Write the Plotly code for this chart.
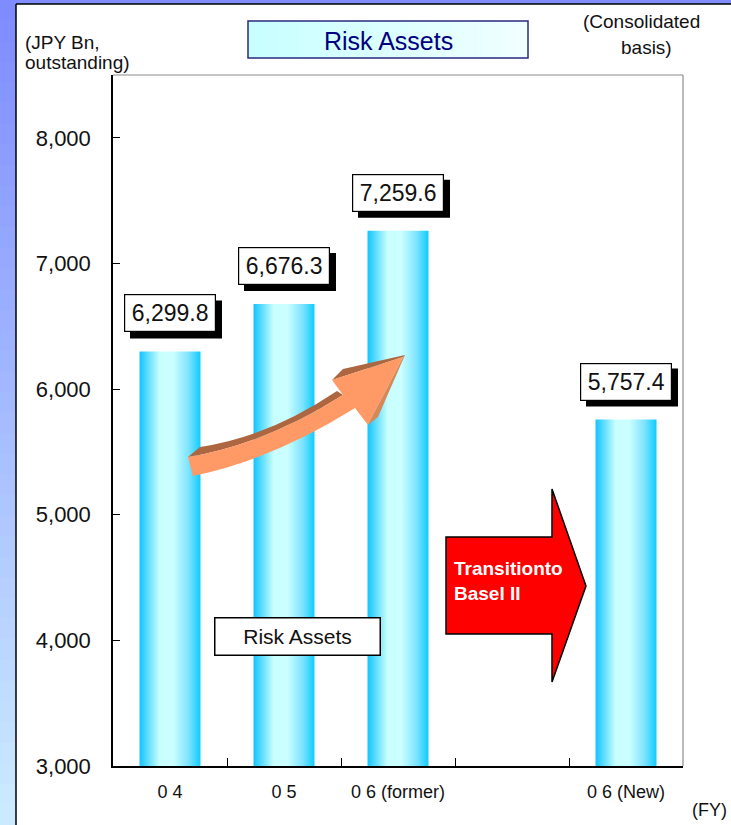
import plotly.graph_objects as go

# ---- data -------------------------------------------------------------
categories = ["0 4", "0 5", "0 6 (former)", "", "0 6 (New)"]
risk_assets = [6299.8, 6676.3, 7259.6, None, 5757.4]
value_labels = ["6,299.8", "6,676.3", "7,259.6", "", "5,757.4"]
y_ticks = [3000, 4000, 5000, 6000, 7000, 8000]

# ---- geometry of the page (pixels) ------------------------------------
W, H = 731, 825
L, R, T, B = 113, 683, 75, 766          # plot area edges
Y0, Y1 = 3000, 8500
BAR_W = 0.535
FONT = "Liberation Sans, Arial, sans-serif"


def dx(px):
    return (px - L) / ((R - L) / len(categories)) - 0.5


def dy(py):
    return Y0 + (B - py) * (Y1 - Y0) / (B - T)


def px_(px):
    return (px - L) / (R - L)


def py_(py):
    return (B - py) / (B - T)


def path(cmds):
    out = []
    for c in cmds:
        op, pts = c[0], c[1:]
        out.append(op + " " + " ".join(f"{dx(x):.4f},{dy(y):.2f}" for x, y in pts))
    return " ".join(out) + " Z"


def lerp(c0, c1, t):
    return "rgb(%d,%d,%d)" % tuple(round(a + (b - a) * t) for a, b in zip(c0, c1))


fig = go.Figure()

# ---- gradient bars ----------------------------------------------------
bar_scale = [[0.0, "#12c4ff"], [0.33, "#c8ffff"], [0.55, "#ccffff"],
             [0.8, "#7fe4ff"], [1.0, "#10cbff"]]
for i, v in enumerate(risk_assets):
    if v is None:
        continue
    x0, x1 = i - BAR_W / 2, i + BAR_W / 2
    fig.add_trace(go.Scatter(
        x=[x0, x1, x1, x0, x0], y=[Y0, Y0, v, v, Y0],
        mode="lines", fill="toself", line=dict(width=0),
        fillgradient=dict(type="horizontal", colorscale=bar_scale),
        hoverinfo="skip", showlegend=False,
    ))

shapes = []

# ---- page background: blue strip on the left and top ------------------
c_top, c_bot = (126, 140, 255), (204, 234, 255)
n = 40
for k in range(n):
    ya, yb = k * H / n, (k + 1) * H / n + 1
    shapes.append(dict(type="rect", xref="paper", yref="paper",
                       x0=px_(0), x1=px_(16), y0=py_(yb), y1=py_(ya),
                       fillcolor=lerp(c_top, c_bot, k / (n - 1)),
                       line=dict(width=0), layer="below"))
shapes.append(dict(type="rect", xref="paper", yref="paper",
                   x0=px_(16), x1=px_(W), y0=py_(4), y1=py_(0),
                   fillcolor="rgb(128,142,255)", line=dict(width=0), layer="below"))
shapes.append(dict(type="line", xref="paper", yref="paper",
                   x0=px_(16), x1=px_(16), y0=py_(4), y1=py_(H),
                   line=dict(color="black", width=1.5)))
shapes.append(dict(type="line", xref="paper", yref="paper",
                   x0=px_(16), x1=px_(W), y0=py_(4), y1=py_(4),
                   line=dict(color="black", width=1.5)))

# grey frame on top and right of the plot area
shapes.append(dict(type="line", xref="paper", yref="paper", x0=0, x1=1, y0=1, y1=1,
                   line=dict(color="#8c8c8c", width=1.2)))
shapes.append(dict(type="line", xref="paper", yref="paper", x0=1, x1=1, y0=0, y1=1,
                   line=dict(color="#8c8c8c", width=1.2)))

# ---- title box with light cyan gradient -------------------------------
tx0, tx1, ty0, ty1 = 248, 528, 21, 58
nb = 28
for k in range(nb):
    xa = tx0 + (tx1 - tx0) * k / nb
    xb = tx0 + (tx1 - tx0) * (k + 1) / nb + 0.5
    shapes.append(dict(type="rect", xref="paper", yref="paper",
                       x0=px_(xa), x1=px_(xb), y0=py_(ty1), y1=py_(ty0),
                       fillcolor=lerp((200, 255, 255), (240, 255, 255), k / (nb - 1)),
                       line=dict(width=0)))
shapes.append(dict(type="rect", xref="paper", yref="paper",
                   x0=px_(tx0), x1=px_(tx1), y0=py_(ty1), y1=py_(ty0),
                   line=dict(color="#2a2a80", width=1.5)))

# ---- orange growth arrow (3-D look) ------------------------------------
orange_body = path([
    ("M", (188, 457)), ("Q", (265.5, 444), (343, 395)),
    ("L", (332, 380)), ("L", (403, 357)), ("L", (368, 425)), ("L", (355, 408)),
    ("Q", (274, 459), (193, 476)),
])
orange_top = path([
    ("M", (188, 457)), ("L", (200, 447)), ("Q", (268.5, 437), (337, 391)),
    ("L", (343, 395)), ("Q", (265.5, 444), (188, 457)),
])
orange_head_top = path([
    ("M", (332, 380)), ("L", (343, 369)), ("L", (405, 355)), ("L", (403, 357)),
])
orange_head_side = path([
    ("M", (403, 357)), ("L", (405, 355)), ("L", (378, 417)), ("L", (368, 425)),
])
for p, col in [(orange_top, "#ad6640"), (orange_head_top, "#ad6640"),
               (orange_head_side, "#d98757"), (orange_body, "#ff9966")]:
    shapes.append(dict(type="path", xref="x", yref="y", path=p,
                       fillcolor=col, line=dict(width=0)))

# ---- red block arrow ---------------------------------------------------
red_arrow = path([
    ("M", (446, 537)), ("L", (552, 537)), ("L", (552, 489)), ("L", (586, 586)),
    ("L", (552, 682)), ("L", (552, 634)), ("L", (446, 634)),
])
shapes.append(dict(type="path", xref="x", yref="y", path=red_arrow,
                   fillcolor="#ff0000", line=dict(color="black", width=1.5)))

# ---- value boxes: black drop shadow anchored to each bar top ---------
BOX_W, BOX_H, GAP, SH = 92, 38, 19, 6
for i, v in enumerate(risk_assets):
    if v is None:
        continue
    shapes.append(dict(type="rect", xref="x", yref="y",
                       xsizemode="pixel", ysizemode="pixel",
                       xanchor=i, yanchor=v,
                       x0=-BOX_W / 2 + SH, x1=BOX_W / 2 + SH,
                       y0=GAP - SH, y1=GAP + BOX_H - SH,
                       fillcolor="black", line=dict(width=0)))

# ---- annotations -------------------------------------------------------
ann = []
for i, (v, lab) in enumerate(zip(risk_assets, value_labels)):
    if v is None:
        continue
    ann.append(dict(text=lab, x=i, y=v, xref="x", yref="y",
                    xanchor="center", yanchor="bottom", yshift=GAP,
                    showarrow=False, width=BOX_W - 4, height=BOX_H - 4,
                    borderpad=1, borderwidth=1.2,
                    bgcolor="white", bordercolor="black",
                    font=dict(family=FONT, size=23, color="#111111")))


def label(txt, x, y, size, color="#111111", xanchor="center", **kw):
    ann.append(dict(text=txt, xref="paper", yref="paper", x=px_(x), y=py_(y),
                    xanchor=xanchor, yanchor="middle", showarrow=False,
                    font=dict(family=FONT, size=size, color=color), **kw))


label("Risk Assets", (tx0 + tx1) / 2, (ty0 + ty1) / 2 + 1, 25, color="#000080")
label("Risk Assets", 297, 636, 21, width=164, height=36, borderpad=0,
      borderwidth=1.5, bordercolor="black", bgcolor="white")
label("<b>Transitionto</b>", 452, 568, 19, color="white", xanchor="left")
label("<b>Basel II</b>", 452, 593, 19, color="white", xanchor="left")
label("(JPY Bn,", 23, 42, 19, xanchor="left")
label("outstanding)", 23, 63, 19, xanchor="left")
label("(Consolidated", 641, 21, 19)
label("basis)", 646, 47, 19)
label("(FY)", 709, 810, 18)

fig.update_layout(
    width=W, height=H,
    margin=dict(l=L, r=W - R, t=T, b=H - B),
    paper_bgcolor="white", plot_bgcolor="white",
    showlegend=False,
    shapes=shapes, annotations=ann,
    xaxis=dict(range=[-0.5, len(categories) - 0.5], tickmode="array",
               tickvals=[i for i, c in enumerate(categories) if c],
               ticktext=[c for c in categories if c],
               ticks="", showgrid=False, zeroline=False,
               showline=True, linecolor="black", linewidth=1.5,
               ticklabelstandoff=9,
               tickfont=dict(family=FONT, size=18, color="#111111"),
               minor=dict(tickmode="array",
                          tickvals=[i + 0.5 for i in range(len(categories) - 1)],
                          ticks="inside", ticklen=8, tickcolor="black",
                          tickwidth=1, showgrid=False),
               fixedrange=True),
    yaxis=dict(range=[Y0, Y1], tickmode="array", tickvals=y_ticks,
               ticktext=[f"{v:,}" for v in y_ticks],
               ticks="inside", ticklen=7, tickcolor="black", tickwidth=1,
               showgrid=False, zeroline=False,
               showline=True, linecolor="black", linewidth=1.5,
               ticklabelstandoff=16,
               tickfont=dict(family=FONT, size=22, color="#111111"),
               fixedrange=True),
)

fig.write_html("out.html", config={"displayModeBar": False})
